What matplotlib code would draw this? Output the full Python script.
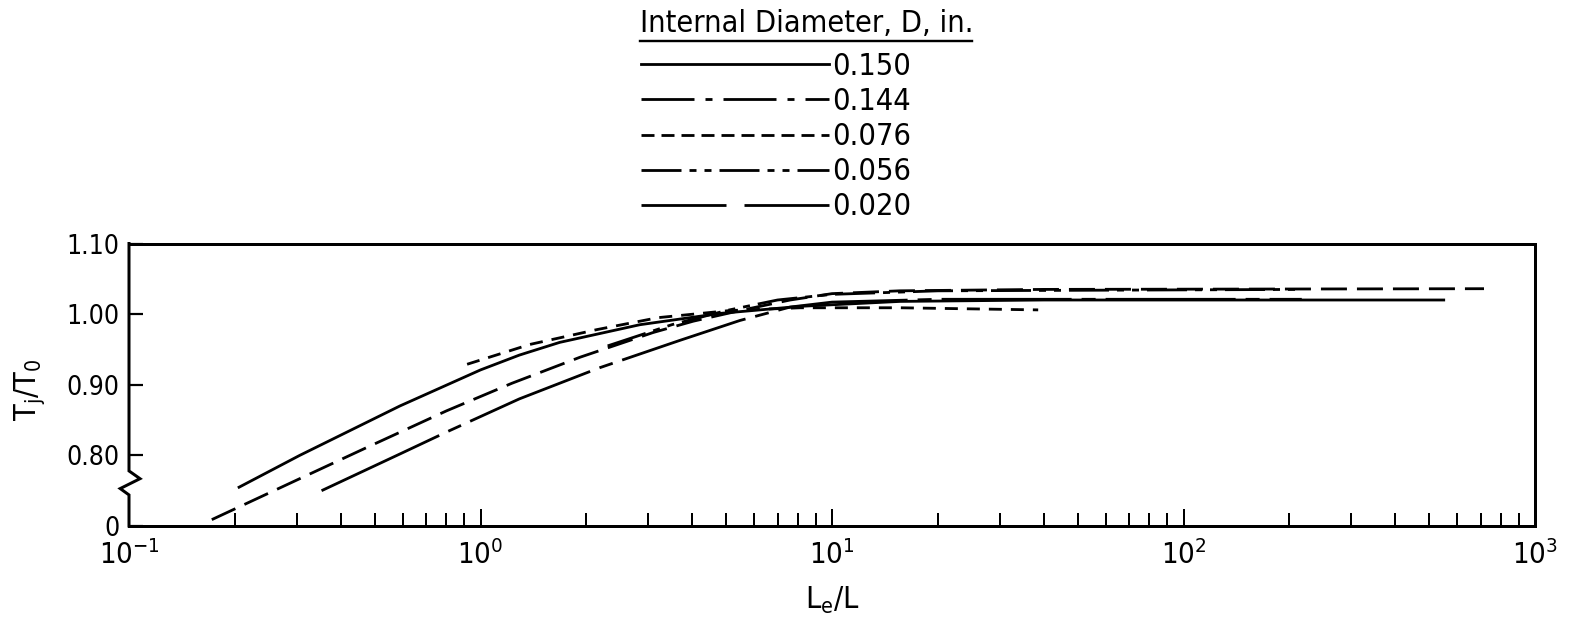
import matplotlib
matplotlib.use("Agg")
import matplotlib.pyplot as plt
from matplotlib import font_manager as fm
from matplotlib.lines import Line2D
from matplotlib.ticker import FixedLocator, LogLocator, NullFormatter

# ---- data: jet temperature ratio vs. length ratio for several bore diameters ----
diameters = ["0.150", "0.144", "0.076", "0.056", "0.020"]

le_150 = [0.204, 0.306, 0.59, 1.0, 1.29, 1.68, 2.84, 4.8, 8.1, 15.6, 40.0, 555.0]
tj_150 = [0.754, 0.800, 0.870, 0.921, 0.942, 0.960, 0.985, 1.001, 1.011, 1.018, 1.020, 1.020]

le_144 = [0.353, 0.59, 0.80, 1.29, 2.18, 3.7, 5.47, 7.6, 10.0, 20.0, 217.0]
tj_144 = [0.750, 0.802, 0.833, 0.880, 0.924, 0.963, 0.991, 1.010, 1.017, 1.021, 1.021]

le_076 = [0.916, 1.38, 2.14, 3.2, 5.1, 8.1, 15.6, 38.6]
tj_076 = [0.929, 0.957, 0.978, 0.995, 1.005, 1.009, 1.009, 1.006]

le_056 = [2.3, 3.5, 5.0, 7.0, 10.0, 20.0, 217.0]
tj_056 = [0.955, 0.985, 1.005, 1.020, 1.028, 1.033, 1.035]

le_020 = [0.172, 0.306, 0.474, 0.80, 1.227, 1.92, 3.1, 4.03, 5.47, 7.6, 10.0, 15.6, 40.0, 716.0]
tj_020 = [0.709, 0.767, 0.811, 0.863, 0.902, 0.939, 0.974, 0.990, 1.005, 1.020, 1.029, 1.033, 1.035, 1.036]

y_ticks = [0.70, 0.80, 0.90, 1.00, 1.10]
y_ticklabels = ["0", "0.80", "0.90", "1.00", "1.10"]
x_ticks = [0.1, 1.0, 10.0, 100.0, 1000.0]
x_ticklabels = [r"$\mathrm{10^{-1}}$", r"$\mathrm{10^{0}}$", r"$\mathrm{10^{1}}$",
                r"$\mathrm{10^{2}}$", r"$\mathrm{10^{3}}$"]

# ---- fonts: a narrow face for the lettering ----
avail = {f.name for f in fm.fontManager.ttflist}
if "Liberation Sans Narrow" in avail:
    fam = "Liberation Sans Narrow"
else:
    fam = "DejaVu Sans"
    plt.rcParams["font.stretch"] = "condensed"
plt.rcParams["font.family"] = [fam, "DejaVu Sans"]
plt.rcParams["mathtext.fontset"] = "custom"
plt.rcParams["mathtext.rm"] = fam
plt.rcParams["mathtext.it"] = fam
plt.rcParams["lines.scale_dashes"] = False

PX = 0.72  # points per pixel at 100 dpi


def dash(*px):
    return (0, [v * PX for v in px])


lw = 2.8 * PX
styles = {
    "0.150": dict(linestyle="-"),
    "0.144": dict(linestyle=dash(130, 10, 14, 10)),
    "0.076": dict(linestyle=dash(13, 9)),
    "0.056": dict(linestyle=dash(40, 8, 7, 8, 7, 8)),
    "0.020": dict(linestyle=dash(26, 10)),
}
legend_styles = {
    "0.150": dict(linestyle="-"),
    "0.144": dict(linestyle=dash(53, 11, 7, 11)),
    "0.076": dict(linestyle=dash(13, 7)),
    "0.056": dict(linestyle=dash(40, 8, 7, 8, 7, 8)),
    "0.020": dict(linestyle=dash(85, 18)),
}
series = {
    "0.150": (le_150, tj_150),
    "0.144": (le_144, tj_144),
    "0.076": (le_076, tj_076),
    "0.056": (le_056, tj_056),
    "0.020": (le_020, tj_020),
}

fig = plt.figure(figsize=(15.73, 6.40), dpi=100)
W, H = 1573, 640
ax = fig.add_axes([129 / W, 1 - 526 / H, (1535 - 129) / W, (526 - 243.5) / H])

for d in diameters:
    xs, ys = series[d]
    ax.plot(xs, ys, color="black", lw=lw, solid_capstyle="butt",
            dash_capstyle="butt", solid_joinstyle="round", **styles[d])

ax.set_xscale("log")
ax.set_xlim(0.1, 1000)
ax.set_ylim(0.70, 1.10)

ax.xaxis.set_major_locator(FixedLocator(x_ticks))
ax.set_xticklabels(x_ticklabels)
ax.xaxis.set_minor_locator(LogLocator(base=10, subs=range(2, 10)))
ax.xaxis.set_minor_formatter(NullFormatter())
ax.set_yticks(y_ticks)
ax.set_yticklabels(y_ticklabels)

ax.tick_params(axis="x", which="major", direction="in", length=17 * PX,
               width=2 * PX, labelsize=21, pad=10)
ax.tick_params(axis="x", which="minor", direction="in", length=13 * PX,
               width=2 * PX)
ax.tick_params(axis="y", which="major", direction="in", length=14 * PX,
               width=2.2 * PX, labelsize=19, pad=7)

for s in ("top", "right", "bottom"):
    ax.spines[s].set_linewidth(3 * PX)
ax.spines["left"].set_visible(False)

# left axis drawn with a break symbol between 0 and 0.80
ytr = ax.get_yaxis_transform()
kx = 11 / 1406
ax.plot([0, 0, kx, -0.8 * kx, 0, 0],
        [1.10, 0.778, 0.767, 0.753, 0.744, 0.70],
        color="black", lw=3 * PX, transform=ytr, clip_on=False,
        solid_joinstyle="miter")

ax.set_xlabel(r"$\mathrm{L_e/L}$", fontsize=22, va="center")
ax.xaxis.set_label_coords(0.5, -(600 - 526) / 282.5)
ax.set_ylabel(r"$\mathrm{T_j/T_0}$", fontsize=22, va="center")
ax.yaxis.set_label_coords(-(129 - 30) / 1406, (526 - 390) / 282.5)

# legend
handles = [Line2D([], [], color="black", lw=lw, dash_capstyle="butt",
                  **legend_styles[d]) for d in diameters]
fig.legend(handles, diameters, loc="upper left",
           bbox_to_anchor=(641 / W, 1 - 52 / H), bbox_transform=fig.transFigure,
           frameon=False, fontsize=22, handlelength=6.15, handletextpad=0.12,
           labelspacing=0.2, borderpad=0, borderaxespad=0)
fig.text(640 / W, 1 - 23 / H, "Internal Diameter, D, in.", fontsize=22,
         ha="left", va="center")
fig.add_artist(Line2D([640 / W, 972 / W], [1 - 41 / H, 1 - 41 / H],
                      color="black", lw=2.4 * PX, transform=fig.transFigure))

fig.savefig("out.png", dpi=100)
